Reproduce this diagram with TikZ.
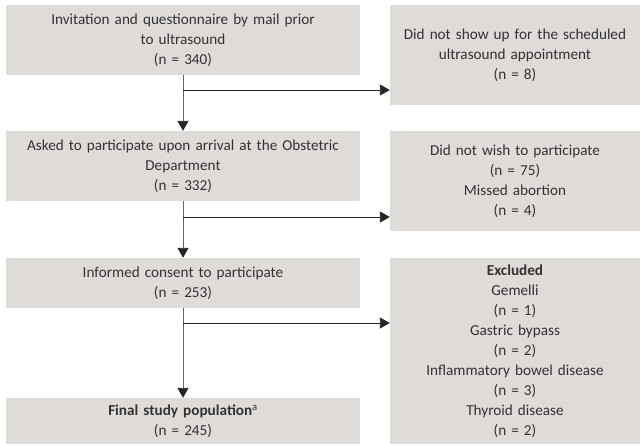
\documentclass[tikz,border=0pt]{standalone}
\usepackage{fontspec}
\setmainfont{Carlito}
\usetikzlibrary{arrows.meta}
\definecolor{boxgray}{RGB}{223,219,216}
\definecolor{txtgray}{RGB}{51,51,51}
\definecolor{linegray}{RGB}{100,100,100}
\tikzset{
  box/.style={fill=boxgray, text=txtgray, inner sep=0pt, align=center,
    font=\fontsize{15.2}{20}\selectfont},
  leftbox/.style={box, minimum width=354pt, text width=345pt},
  rightbox/.style={box, minimum width=250pt, text width=245pt},
  flow/.style={linegray, line width=0.9pt, -{Triangle[width=11pt,length=10pt,color=black!85]}},
  side/.style={black!85, line width=0.9pt, -{Triangle[width=11pt,length=10pt]}}
}
\begin{document}
\begin{tikzpicture}[x=1pt,y=-1pt]
    \useasboundingbox (0,0) rectangle (640,445);
    % main path
    \node[leftbox, minimum height=70pt] (inv) at (183,40) {Invitation and questionnaire by mail prior\\to ultrasound\\(n = 340)};
    \node[leftbox, minimum height=70pt] (ask) at (183,166) {Asked to participate upon arrival at the Obstetric\\Department\\(n = 332)};
    \node[leftbox, minimum height=50pt] (cons) at (183,283) {Informed consent to participate\\(n = 253)};
    \node[leftbox, minimum height=46pt] (final) at (183,421) {\textbf{Final study population}\textsuperscript{a}\\(n = 245)};
    % drop-outs
    \node[rightbox, minimum height=100pt] (noshow) at (515,55) {Did not show up for the scheduled\\ultrasound appointment\\(n = 8)};
    \node[rightbox, minimum height=100pt] (nowish) at (515,181) {Did not wish to participate\\(n = 75)\\Missed abortion\\(n = 4)};
    \node[rightbox, minimum height=186pt] (excl) at (515,351) {\textbf{Excluded}\\Gemelli\\(n = 1)\\Gastric bypass\\(n = 2)\\Inflammatory bowel disease\\(n = 3)\\Thyroid disease\\(n = 2)};
    % branch points
    \coordinate (b1) at (183,90);
    \coordinate (b2) at (183,217);
    \coordinate (b3) at (183,323);
    \draw[flow] (inv) -- (ask);
    \draw[flow] (ask) -- (cons);
    \draw[flow] (cons) -- (final);
    \draw[side] (b1) -- (b1 -| noshow.west);
    \draw[side] (b2) -- (b2 -| nowish.west);
    \draw[side] (b3) -- (b3 -| excl.west);
\end{tikzpicture}
\end{document}
